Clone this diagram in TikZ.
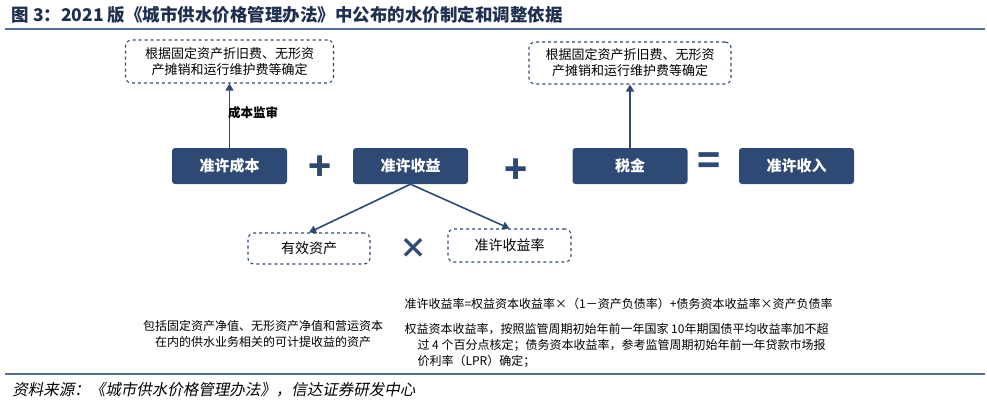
\documentclass[tikz,border=0pt]{standalone}
\usepackage{fontspec}
\setmainfont{Noto Sans CJK SC}
\usetikzlibrary{arrows.meta}
\definecolor{navy}{HTML}{2E4A74}
\definecolor{rule}{HTML}{4F6E9A}
\definecolor{ttl}{HTML}{1F2F4F}
\tikzset{
  solidbox/.style={draw=none,fill=navy,text=white,font=\fontsize{15}{17}\selectfont\bfseries,rounded corners=3pt,minimum width=115pt,minimum height=36pt},
  dbox/.style={draw=navy,dashed,line width=1.1pt,rounded corners=6pt,align=center,font=\fontsize{13}{16}\selectfont},
  conn/.style={draw=navy,line width=1.6pt,-{Triangle[length=7pt,width=8pt]}},
  sym/.style={text=navy,font=\fontsize{38}{38}\selectfont\bfseries},
  small/.style={font=\fontsize{12}{16}\selectfont,align=left,anchor=north west}
}
\begin{document}
\begin{tikzpicture}[x=1pt,y=-1pt]
\useasboundingbox (0,0) rectangle (987,404);
\node[anchor=west,text=ttl,font=\fontsize{17.5}{19}\selectfont\bfseries] (title) at (8,15) {图 3：2021 版《城市供水价格管理办法》中公布的水价制定和调整依据};
\draw[rule,line width=1.5pt] (5,29) -- (985,29);
\node[dbox,minimum width=208pt,minimum height=43pt] (d1) at (229.5,61.5) {根据固定资产折旧费、无形资\\产摊销和运行维护费等确定};
\node[dbox,minimum width=202pt,minimum height=42pt] (d2) at (630,63) {根据固定资产折旧费、无形资\\产摊销和运行维护费等确定};
\node[solidbox] (cb) at (229.5,166) {准许成本};
\node[solidbox] (sy) at (410.5,166) {准许收益};
\node[solidbox] (sj) at (630,166) {税金};
\node[solidbox] (sr) at (796.5,166) {准许收入};
\node[sym] (p1) at (320,168) {+};
\node[sym] (p2) at (516,171) {+};
\node[sym] (eq) at (709,164) {=};
\node[sym,font=\fontsize{28}{28}\selectfont\bfseries] (x1) at (413,248) {×};
\draw[conn] (cb.north) -- (d1.south);
\node[anchor=west,inner sep=0pt,font=\fontsize{12.5}{14}\selectfont\bfseries] (l1) at (228,113) {成本监审};
\draw[conn] (sj.north) -- (d2.south);
\node[dbox,minimum width=122pt,minimum height=31pt,font=\fontsize{14}{16}\selectfont] (yx) at (309,248.5) {有效资产};
\node[dbox,minimum width=123pt,minimum height=33pt,font=\fontsize{14}{16}\selectfont] (syl) at (509.5,245.5) {准许收益率};
\draw[conn] (sy.south) -- (yx.north);
\draw[conn] (sy.south) -- (syl.north);
\node[align=center,font=\fontsize{12}{16}\selectfont] (t1) at (263,334) {包括固定资产净值、无形资产净值和营运资本\\在内的供水业务相关的可计提收益的资产};
\node[small] (t2) at (401,295) {准许收益率=权益资本收益率×（1－资产负债率）+债务资本收益率×资产负债率};
\node[small] (t3) at (401,320) {权益资本收益率，按照监管周期初始年前一年国家 10年期国债平均收益率加不超\\\hspace*{13pt}过 4 个百分点核定；债务资本收益率，参考监管周期初始年前一年贷款市场报\\\hspace*{13pt}价利率（LPR）确定；};
\draw[rule,line width=1.2pt] (5,374) -- (985,374);
\node[anchor=west,font=\fontsize{15.5}{17}\selectfont,xslant=0.2] (src) at (10,390) {资料来源：《城市供水价格管理办法》，信达证券研发中心};
\end{tikzpicture}
\end{document}
